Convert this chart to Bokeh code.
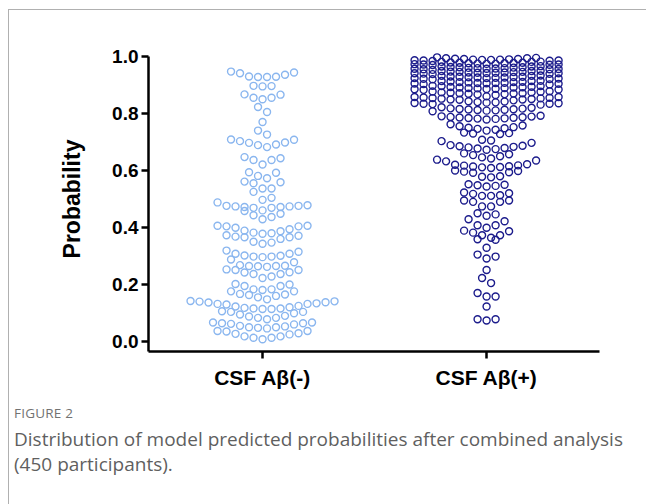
import numpy as np
from bokeh.plotting import figure
from bokeh.models import Range1d, FixedTicker, PrintfTickFormatter, Div
from bokeh.layouts import column
from bokeh.embed import file_html
from bokeh.resources import INLINE

categories = ["CSF A\u03b2(-)", "CSF A\u03b2(+)"]

neg_values = [
    0.947, 0.944, 0.941, 0.936, 0.930, 0.929, 0.928, 0.928,
    0.897, 0.896, 0.895,
    0.867, 0.866, 0.855, 0.855, 0.850,
    0.823, 0.805,
    0.770,
    0.740, 0.726,
    0.709, 0.708, 0.703, 0.698, 0.697, 0.691, 0.689, 0.682,
    0.647, 0.643, 0.637, 0.637, 0.621,
    0.594, 0.592, 0.581, 0.573,
    0.561, 0.559, 0.555, 0.537, 0.537,
    0.525, 0.504, 0.497,
    0.488, 0.478, 0.476, 0.476, 0.474, 0.474, 0.472, 0.472, 0.469, 0.469, 0.460, 0.458, 0.448, 0.443, 0.437, 0.429,
    0.406, 0.406, 0.404, 0.404, 0.399, 0.394, 0.389, 0.387, 0.382, 0.380, 0.378,
    0.373, 0.371, 0.368, 0.366, 0.366, 0.360, 0.350, 0.347, 0.343,
    0.319, 0.315, 0.308, 0.308, 0.302, 0.301, 0.298, 0.298, 0.296,
    0.288, 0.278, 0.268, 0.266, 0.265, 0.265, 0.264, 0.262,
    0.253, 0.251, 0.251, 0.243, 0.242, 0.237, 0.237, 0.228, 0.223,
    0.202, 0.200, 0.195, 0.195, 0.183, 0.183, 0.181,
    0.176, 0.176, 0.167, 0.165, 0.163, 0.160, 0.155, 0.148,
    0.142, 0.141, 0.140, 0.138, 0.137, 0.134, 0.132, 0.132, 0.130, 0.125, 0.123, 0.120, 0.118, 0.116, 0.116, 0.114, 0.114,
    0.106, 0.104, 0.104, 0.099, 0.095, 0.090, 0.088, 0.083, 0.083, 0.078,
    0.067, 0.067, 0.064, 0.064, 0.062, 0.060, 0.055, 0.053, 0.050, 0.050, 0.048, 0.046,
    0.037, 0.037, 0.035, 0.029, 0.027, 0.025, 0.018, 0.018, 0.013, 0.013, 0.008,
]

pos_values = [
    0.997, 0.995, 0.994, 0.994, 0.992, 0.991, 0.991, 0.990, 0.989, 0.989, 0.988, 0.988, 0.987, 0.986, 0.986, 0.985, 0.984,
    0.982, 0.981, 0.981, 0.979, 0.978, 0.978, 0.977, 0.976, 0.976, 0.975, 0.974, 0.974, 0.973, 0.972, 0.972, 0.971, 0.970,
    0.966, 0.965, 0.965, 0.963, 0.962, 0.962, 0.961, 0.960, 0.959, 0.959, 0.958, 0.957, 0.957, 0.956, 0.955, 0.955, 0.953,
    0.950, 0.949, 0.949, 0.947, 0.946, 0.946, 0.945, 0.944, 0.944, 0.943, 0.943, 0.942, 0.941, 0.941, 0.940, 0.939, 0.938,
    0.933, 0.932, 0.932, 0.930, 0.929, 0.929, 0.928, 0.927, 0.926, 0.926, 0.925, 0.924, 0.924, 0.923, 0.922, 0.921, 0.920,
    0.915, 0.914, 0.914, 0.912, 0.911, 0.910, 0.910, 0.909, 0.908, 0.907, 0.907, 0.906, 0.905, 0.904, 0.903, 0.902,
    0.897, 0.896, 0.896, 0.894, 0.893, 0.892, 0.891, 0.891, 0.889, 0.889, 0.888, 0.887, 0.886, 0.885, 0.884, 0.883,
    0.878, 0.877, 0.876, 0.874, 0.874, 0.873, 0.871, 0.871, 0.870, 0.869, 0.868, 0.867, 0.865,
    0.860, 0.858, 0.858, 0.856, 0.855, 0.854, 0.853, 0.852, 0.851, 0.849, 0.849, 0.848, 0.846,
    0.843, 0.842, 0.840, 0.839, 0.838, 0.837, 0.836, 0.834, 0.834, 0.833, 0.831,
    0.822, 0.820, 0.818, 0.817, 0.816, 0.815, 0.814, 0.813, 0.812, 0.811, 0.810, 0.808,
    0.792, 0.790, 0.789, 0.788, 0.787, 0.786, 0.785, 0.784, 0.783, 0.782, 0.781, 0.779,
    0.762, 0.758, 0.755, 0.752, 0.750, 0.748, 0.746, 0.743, 0.740, 0.733, 0.731, 0.730, 0.728,
    0.708, 0.705, 0.703,
    0.697, 0.689, 0.687, 0.685, 0.683, 0.681, 0.679, 0.677, 0.675, 0.673,
    0.660, 0.657, 0.654, 0.650, 0.646, 0.642, 0.638, 0.635, 0.632,
    0.622, 0.620, 0.618, 0.617, 0.615, 0.614, 0.612, 0.611, 0.609,
    0.600, 0.598, 0.596, 0.594, 0.592, 0.580, 0.578, 0.576,
    0.552, 0.550, 0.548, 0.546, 0.544,
    0.523, 0.520, 0.518, 0.513, 0.511, 0.511, 0.495, 0.495, 0.490, 0.490, 0.474, 0.474,
    0.450, 0.446, 0.441, 0.429, 0.422, 0.408, 0.408, 0.399,
    0.389, 0.387, 0.382, 0.373, 0.373, 0.364, 0.359, 0.357,
    0.329, 0.305, 0.298, 0.291, 0.251, 0.223, 0.205, 0.170, 0.158, 0.158, 0.123, 0.078, 0.078, 0.074,
]

y_ticks = [0.0, 0.2, 0.4, 0.6, 0.8, 1.0]
y_label = "Probability"
caption_tag = "FIGURE 2"
caption_lines = [
    "Distribution of model predicted probabilities after combined analysis",
    "(450 participants).",
]
group_colors = ["#8ab6ef", "#1c1c8c"]

# figure placed at page offset (9, 10) inside a 1px gray border
W, H = 637, 385
FL, FR, FT, FB = 139, 590, 36, 341
X0, X1 = 0.491, 2.504
Y0, Y1 = -0.035, 1.035
px_per_x = (FR - FL) / (X1 - X0)


def swarm(vals, center, step_px=9.0, row_h=0.031, max_n=17):
    v = np.sort(np.asarray(vals, dtype=float))
    xs, ys = [], []
    i = 0
    while i < len(v):
        j = i
        while j < len(v) and v[j] < v[i] + row_h and j - i < max_n:
            j += 1
        row = v[i:j]
        n = len(row)
        offs = (np.arange(n) - (n - 1) / 2.0) * step_px
        order = sorted(range(n), key=lambda k: (abs(offs[k]), -offs[k]))
        for val, k in zip(row, order):
            xs.append(center + offs[k] / px_per_x)
            ys.append(val)
        i = j
    return xs, ys


p = figure(width=W, height=H, x_range=Range1d(X0, X1), y_range=Range1d(Y0, Y1),
           output_backend="svg", toolbar_location=None,
           min_border_left=FL, min_border_right=W - FR,
           min_border_top=FT, min_border_bottom=H - FB, margin=0)
p.outline_line_color = None
p.grid.visible = False
p.background_fill_color = "white"
p.border_fill_color = "white"

for gi, vals in enumerate([neg_values, pos_values]):
    xs, ys = swarm(vals, gi + 1)
    p.scatter(xs, ys, marker="circle", size=7, fill_color=None,
              line_color=group_colors[gi], line_width=1.4)

font = "Liberation Sans"
for ax in (p.xaxis[0], p.yaxis[0]):
    ax.axis_line_width = 2.5
    ax.axis_line_color = "black"
    ax.major_tick_line_width = 2.5
    ax.major_tick_line_color = "black"
    ax.major_tick_out = 7
    ax.major_tick_in = 0
    ax.minor_tick_line_color = None
    ax.major_label_text_font = font
    ax.major_label_text_font_style = "bold"
    ax.major_label_text_color = "black"

p.xaxis.ticker = FixedTicker(ticks=[1, 2])
p.xaxis.major_label_overrides = {1: categories[0], 2: categories[1]}
p.xaxis.major_label_text_font_size = "21px"
p.xaxis.major_label_standoff = 7

p.yaxis.ticker = FixedTicker(ticks=y_ticks)
p.yaxis.formatter = PrintfTickFormatter(format="%.1f")
p.yaxis.major_label_text_font_size = "19px"
p.yaxis.major_label_standoff = 3
p.yaxis.bounds = (Y0, 1.0)
p.yaxis.axis_label = y_label
p.yaxis.axis_label_text_font = font
p.yaxis.axis_label_text_font_style = "bold"
p.yaxis.axis_label_text_font_size = "23px"
p.yaxis.axis_label_text_color = "black"
p.yaxis.axis_label_standoff = 24

cap_html = (
    "<div style=\"font-family:'Open Sans',sans-serif;padding-left:5px;\">"
    "<div style=\"font-size:13.5px;line-height:16px;margin-top:10px;color:#727272;"
    "letter-spacing:0.2px;\">" + caption_tag + "</div>"
    "<div style=\"font-size:19px;line-height:25px;margin-top:6px;color:#5f5f5f;"
    "white-space:nowrap;\">"
    + "<br>".join(caption_lines) + "</div></div>"
)
cap = Div(text=cap_html, width=W, height=109, margin=0)

root = column(p, cap, margin=0, styles={
    "margin-left": "8px", "margin-top": "9px",
    "border-left": "1px solid #b0b0b0", "border-top": "1px solid #b0b0b0",
})

open("out.html", "w").write(file_html(root, INLINE))
